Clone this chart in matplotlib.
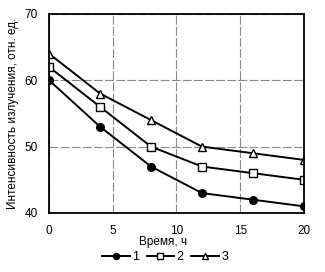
import matplotlib
matplotlib.use("Agg")
import matplotlib.pyplot as plt

time_h = [0, 4, 8, 12, 16, 20]
series1 = [60, 53, 47, 43, 42, 41]
series2 = [62, 56, 50, 47, 46, 45]
series3 = [64, 58, 54, 50, 49, 48]
labels = ["1", "2", "3"]
x_ticks = [0, 5, 10, 15, 20]
y_ticks = [40, 50, 60, 70]

plt.rcParams['font.family'] = ['Liberation Sans', 'DejaVu Sans']

fig = plt.figure(figsize=(3.25, 2.72), dpi=100)
ax = fig.add_axes([0.151, 0.217, 0.784, 0.732])

kw = dict(color='black', lw=1.4, markersize=5.5, markeredgewidth=1.0)
ax.plot(time_h, series1, marker='o', markerfacecolor='black', label=labels[0], **kw)
ax.plot(time_h, series2, marker='s', markerfacecolor='white', label=labels[1], **kw)
ax.plot(time_h, series3, marker='^', markerfacecolor='white', label=labels[2], **kw)

ax.set_xlim(0, 20)
ax.set_ylim(40, 70)
ax.set_xticks(x_ticks)
ax.set_yticks(y_ticks)
ax.grid(True, color='#8a8a8a', lw=0.8, ls=(0, (8, 2)))
ax.set_axisbelow(True)
for s in ax.spines.values():
    s.set_linewidth(1.3)
ax.tick_params(length=0, labelsize=8.5)
ax.tick_params(axis='x', pad=9)
ax.tick_params(axis='y', pad=8)
ax.set_xlabel("Время, ч", fontsize=8.5)
ax.xaxis.set_label_coords(0.447, -0.118)
ax.set_ylabel("Интенсивность излучения, отн. ед.", fontsize=8.5)
ax.yaxis.set_label_coords(-0.118, 0.5)

ax.legend(loc='center', bbox_to_anchor=(0.455, -0.222), ncol=3, frameon=False,
          fontsize=9, handlelength=2.2, handletextpad=0.2, columnspacing=0.6,
          borderaxespad=0, borderpad=0, markerscale=0.8)

fig.savefig("out.png", dpi=100)
